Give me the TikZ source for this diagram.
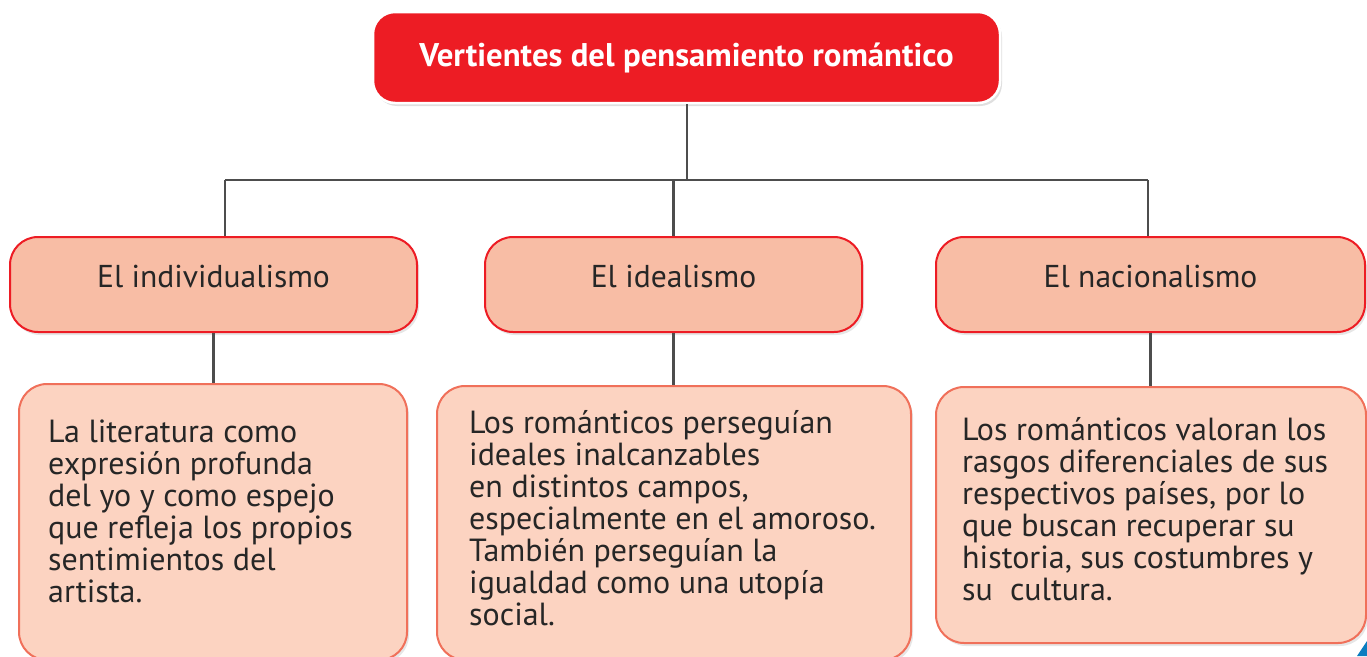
\documentclass[tikz,border=0pt]{standalone}
\usepackage{fontspec}
\setmainfont{PT Sans}
\usetikzlibrary{positioning,shadows}
\definecolor{titlered}{HTML}{ED1C24}
\definecolor{headfill}{HTML}{F8BDA5}
\definecolor{bodyfill}{HTML}{FCD3C1}
\definecolor{bodyline}{HTML}{F0705A}
\definecolor{linkgray}{HTML}{4D4D4D}
\definecolor{cornerblue}{HTML}{0A7DC0}
\begin{document}
\begin{tikzpicture}[x=1pt,y=1pt,
	head/.style={draw=titlered, line width=2pt, fill=headfill, rounded corners=28pt,
		minimum height=95pt, text=black!85, font=\fontsize{31.6}{33}\selectfont,
		text height=23pt, text depth=18pt, drop shadow={opacity=0.2, shadow xshift=2pt, shadow yshift=-3pt}},
	body/.style={draw=bodyline, line width=2pt, fill=bodyfill, rounded corners=28pt,
		drop shadow={opacity=0.2, shadow xshift=2pt, shadow yshift=-3pt}},
	bodytext/.style={anchor=base west, inner sep=0pt, align=left, text=black!85,
		font=\fontsize{32}{32}\selectfont},
	link/.style={draw=linkgray, line width=2.3pt}]
		\useasboundingbox (0,0) rectangle (1367,-656);
		\node (title) [fill=titlered, draw=white, line width=2.5pt, rounded corners=22pt,
			minimum width=627pt, minimum height=91pt, text=white,
			font=\fontsize{32.8}{34}\selectfont\bfseries,
			drop shadow={opacity=0.25, shadow xshift=2pt, shadow yshift=-3pt}]
			at (686.5,-57.5) {Vertientes del pensamiento romántico};
		\node (ind) [head, minimum width=407pt] at (213.5,-284.5) {El individualismo};
		\node (ide) [head, minimum width=377pt] at (673.5,-284.5) {El idealismo};
		\node (nac) [head, minimum width=429pt] at (1150.5,-284.5) {El nacionalismo};
		\node (lit) [body, minimum width=388pt, minimum height=276pt] at (213,-522) {};
		\node (ide2) [body, minimum width=474pt, minimum height=274pt] at (674,-523) {};
		\node (nac2) [body, minimum width=430pt, minimum height=256pt] at (1151,-515) {};
		% anchored at the baseline of the last line
		\node (t1) [bodytext] at (48,-602) {La literatura como\\expresión profunda\\del yo y como espejo\\que refleja los propios\\sentimientos del\\artista.};
		\node (t2) [bodytext] at (469,-625) {Los románticos perseguían\\ideales inalcanzables\\en distintos campos,\\especialmente en el amoroso.\\También perseguían la\\igualdad como una utopía\\social.};
		\node (t3) [bodytext] at (962,-600) {Los románticos valoran los\\rasgos diferenciales de sus\\respectivos países, por lo\\que buscan recuperar su\\historia, sus costumbres y\\su\ \ cultura.};
		\coordinate (hub) at (687,-180);
		\coordinate (barL) at (225,-180);
		\coordinate (barM) at (673.5,-180);
		\coordinate (barR) at (1148,-180);
		\draw [link] (title.south -| hub) -- (hub);
		\draw [link] (barL) -- (barR);
		\draw [link] (barL) -- (barL |- ind.north);
		\draw [link] (barM) -- (ide.north);
		\draw [link] (barR) -- (barR |- nac.north);
		\draw [link] (ind.south) -- (ind.south |- lit.north);
		\draw [link] (ide.south) -- (ide.south |- ide2.north);
		\draw [link] (nac.south) -- (nac.south |- nac2.north);
		\fill [cornerblue] (1357,-656) -- (1367,-641) -- (1367,-656) -- cycle;
\end{tikzpicture}
\end{document}
